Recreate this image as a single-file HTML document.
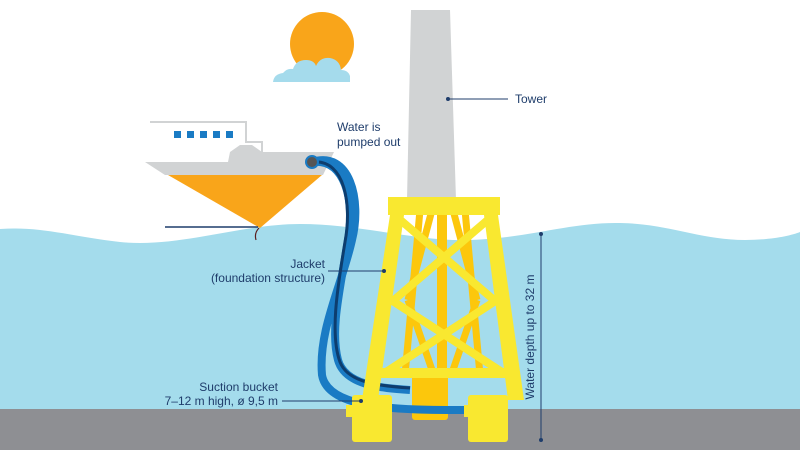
<!DOCTYPE html>
<html><head><meta charset="utf-8"><style>
html,body{margin:0;padding:0;background:#fff;width:800px;height:450px;overflow:hidden}
svg{display:block}
text{font-family:"Liberation Sans",sans-serif;font-size:12px;fill:#1f3d6b}
</style></head><body>
<svg width="800" height="450" viewBox="0 0 800 450">
<circle cx="322" cy="44" r="32" fill="#f9a51a"/>
<path d="M273,82 Q274,74 283,73 Q287,68 293,69 Q296,60 306,60 Q314,60 316,66 Q320,57 330,58 Q340,60 341,70 Q348,70 350,76 L350,82 Z" fill="#a5dbec"/>
<polygon points="411,10 450,10 456,200 407,200" fill="#d1d3d4"/>
<path d="M0,229 C40,226 70,236 120,242 C180,248 240,224 300,224 C360,224 420,242 470,240 C530,238 570,222 620,223 C670,224 700,240 745,240 C770,240 790,236 800,232 L800,410 L0,410 Z" fill="#a4dcec"/>
<rect x="0" y="409" width="800" height="41" fill="#8e8f93"/>
<polyline points="150,122 246,122 246,142 262,142 262,152" fill="none" stroke="#d1d3d4" stroke-width="2"/>
<g fill="#1a7bc4">
<rect x="174" y="131" width="7" height="7"/><rect x="187" y="131" width="7" height="7"/><rect x="200" y="131" width="7" height="7"/><rect x="213" y="131" width="7" height="7"/><rect x="226" y="131" width="7" height="7"/>
</g>
<polygon points="230,152 334,152 323,175 165,175 145,162 228,162" fill="#d1d3d4"/>
<polygon points="230,152 240,145 252,145 262,152" fill="#d1d3d4"/>
<polygon points="168,175 322,175 260,228" fill="#f9a51a"/>
<line x1="165" y1="227" x2="258" y2="227" stroke="#1f3d6b" stroke-width="1.5"/>
<path d="M259,228 Q254,233 256,240" stroke="#5a1e1e" stroke-width="1.2" fill="none"/>
<g stroke="#fcc70c" stroke-width="7" fill="none">
<line x1="420" y1="210" x2="405" y2="375"/><line x1="465" y1="210" x2="480" y2="375"/>
<line x1="432" y1="210" x2="408" y2="300"/><line x1="453" y1="210" x2="477" y2="300"/>
<line x1="408" y1="300" x2="432" y2="370"/><line x1="477" y1="300" x2="453" y2="370"/>
</g>
<rect x="437" y="210" width="10" height="170" fill="#fcc70c"/>
<rect x="412" y="368" width="36" height="52" rx="3" fill="#fcc70c"/>
<path d="M312,162 C350,150 362,200 352,240 C342,285 318,330 322,375 C328,410 400,410 470,410" stroke="#1a7bc4" stroke-width="8" fill="none"/>
<path d="M312,162 C345,158 355,200 348,240 C340,290 330,330 338,360 C345,385 380,388 410,390" stroke="#1a7bc4" stroke-width="8" fill="none"/>
<path d="M314,162 C345,160 352,205 345,242 C337,290 330,335 340,362 C348,383 380,386 410,388" stroke="#0d3d6e" stroke-width="3" fill="none"/>
<circle cx="312" cy="162" r="6" fill="#555" stroke="#1a7bc4" stroke-width="2"/>
<rect x="388" y="197" width="112" height="18" fill="#f9e830"/>
<polygon points="390,215 404,215 378,400 362,400" fill="#f9e830"/>
<polygon points="484,215 498,215 524,400 508,400" fill="#f9e830"/>
<g stroke="#f9e830" stroke-width="8" fill="none">
<line x1="398" y1="218" x2="494" y2="300"/><line x1="490" y1="218" x2="394" y2="300"/>
<line x1="388" y1="298" x2="502" y2="372"/><line x1="500" y1="298" x2="386" y2="372"/>
</g>
<rect x="372" y="368" width="142" height="10" fill="#f9e830"/>
<rect x="352" y="395" width="40" height="47" rx="3" fill="#f9e830"/>
<rect x="346" y="405" width="10" height="12" fill="#f9e830"/>
<rect x="468" y="395" width="40" height="47" rx="3" fill="#f9e830"/>
<rect x="464" y="405" width="10" height="12" fill="#f9e830"/>
<line x1="448" y1="99" x2="508" y2="99" stroke="#1f3d6b"/><circle cx="448" cy="99" r="2" fill="#1f3d6b"/>
<text x="515" y="103">Tower</text>
<text x="337" y="131">Water is</text>
<text x="337" y="146">pumped out</text>
<text x="325" y="268" text-anchor="end">Jacket</text>
<text x="325" y="282" text-anchor="end">(foundation structure)</text>
<line x1="328" y1="271" x2="384" y2="271" stroke="#1f3d6b"/><circle cx="384" cy="271" r="2" fill="#1f3d6b"/>
<text x="278" y="391" text-anchor="end">Suction bucket</text>
<text x="278" y="405" text-anchor="end">7–12 m high, ø 9,5 m</text>
<line x1="282" y1="401" x2="361" y2="401" stroke="#1f3d6b"/><circle cx="361" cy="401" r="2" fill="#1f3d6b"/>
<line x1="541" y1="234" x2="541" y2="440" stroke="#1f3d6b"/><circle cx="541" cy="234" r="2" fill="#1f3d6b"/><circle cx="541" cy="440" r="2" fill="#1f3d6b"/>
<text transform="translate(534,337) rotate(-90)" text-anchor="middle">Water depth up to 32 m</text>
</svg>
</body></html>
